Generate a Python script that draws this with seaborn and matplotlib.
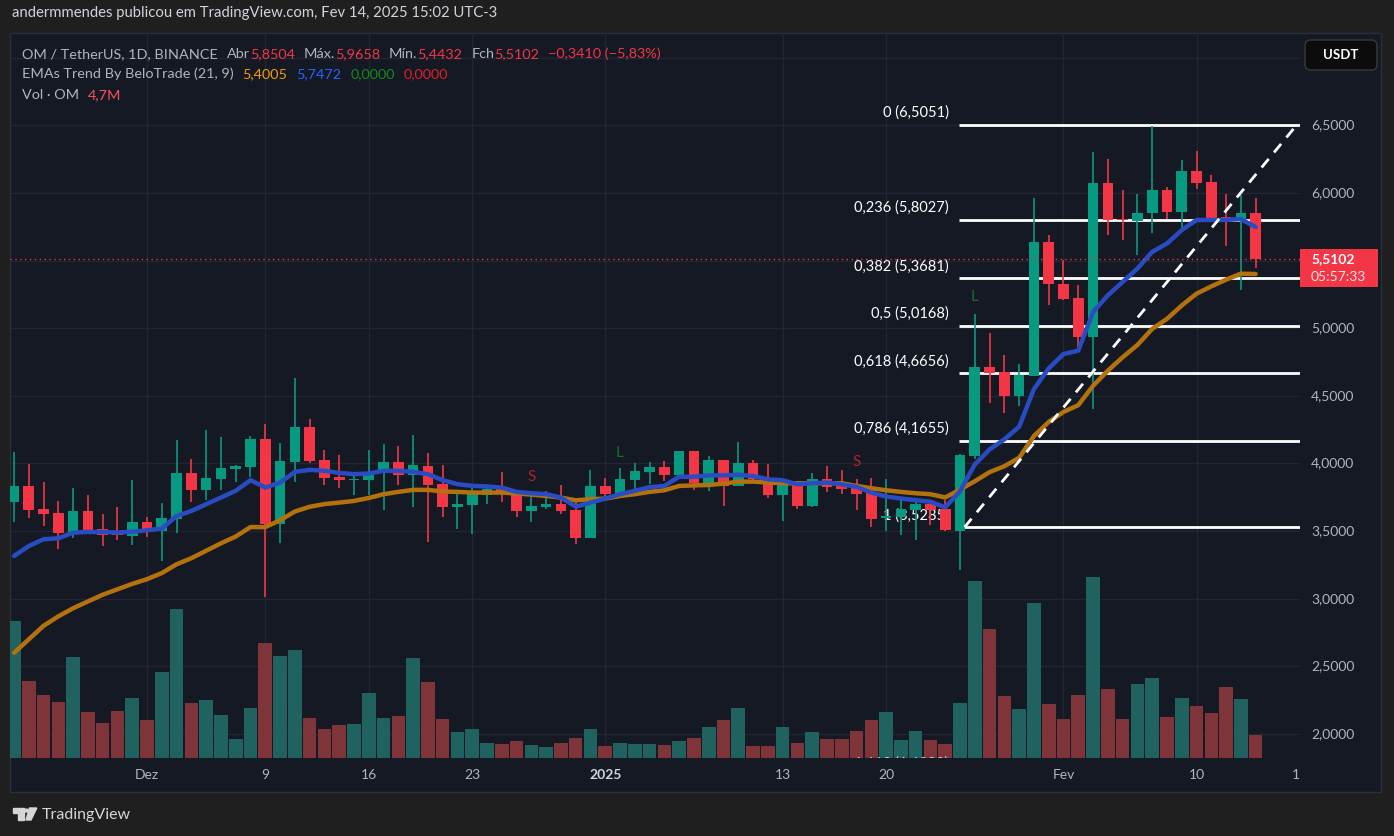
import numpy as np
import pandas as pd
import matplotlib
matplotlib.use("Agg")  # no display in the sandbox
import matplotlib.pyplot as plt
from matplotlib.patches import Rectangle, FancyBboxPatch, Polygon, Circle
import seaborn as sns

W, H = 1394, 836

# daily candles, OM/USDT (Binance)
dates = pd.date_range("2024-11-22", "2025-02-14", freq="D")

opens = [3.716, 3.832, 3.662, 3.632, 3.486, 3.647, 3.514, 3.479, 3.464, 3.565,
         3.501, 3.590, 3.928, 3.805, 3.886, 3.960, 3.975, 4.180, 3.553, 4.010,
         4.269, 4.025, 3.899, 3.879, 3.879, 3.931, 4.010, 3.916, 3.980, 3.847,
         3.679, 3.694, 3.768, 3.810, 3.783, 3.649, 3.679, 3.699, 3.654, 3.449,
         3.832, 3.773, 3.879, 3.937, 3.971, 3.912, 4.095, 3.846, 4.029, 3.834,
         4.000, 3.888, 3.766, 3.839, 3.688, 3.888, 3.834, 3.827, 3.780, 3.595,
         3.607, 3.659, 3.700, 3.663, 3.502, 4.054, 4.713, 4.673, 4.500, 4.649,
         5.639, 5.329, 5.223, 4.938, 6.072, 5.807, 5.792, 5.849, 6.020, 5.859,
         6.161, 6.079, 5.819, 5.800, 5.8504]
highs = [4.084, 3.995, 3.862, 3.721, 3.817, 3.765, 3.625, 3.677, 3.877, 3.602,
         3.706, 4.173, 4.032, 4.247, 4.195, 3.988, 4.205, 4.291, 4.151, 4.632,
         4.328, 4.099, 4.062, 3.928, 4.099, 4.143, 4.128, 4.210, 4.077, 3.988,
         3.805, 3.847, 3.817, 3.936, 3.802, 3.788, 3.795, 3.839, 3.714, 3.951,
         3.891, 3.965, 4.002, 4.012, 4.015, 4.095, 4.095, 4.054, 4.029, 4.156,
         4.029, 3.993, 3.839, 3.839, 3.927, 3.985, 3.949, 3.883, 3.895, 3.883,
         3.744, 3.744, 3.732, 3.732, 4.067, 5.106, 4.965, 4.802, 4.735, 5.960,
         5.688, 5.502, 5.322, 6.302, 6.250, 6.020, 5.990, 6.495, 6.040, 6.243,
         6.309, 6.136, 5.990, 5.983, 5.9658]
lows = [3.568, 3.598, 3.538, 3.368, 3.449, 3.479, 3.390, 3.435, 3.398, 3.457,
        3.279, 3.486, 3.716, 3.731, 3.805, 3.864, 3.901, 3.010, 3.412, 3.864,
        4.002, 3.842, 3.820, 3.768, 3.768, 3.657, 3.844, 3.679, 3.420, 3.605,
        3.516, 3.479, 3.699, 3.716, 3.605, 3.568, 3.664, 3.627, 3.405, 3.449,
        3.758, 3.758, 3.780, 3.846, 3.871, 3.883, 3.805, 3.798, 3.688, 3.834,
        3.859, 3.744, 3.578, 3.663, 3.676, 3.790, 3.773, 3.659, 3.529, 3.498,
        3.468, 3.432, 3.542, 3.498, 3.213, 4.030, 4.446, 4.371, 4.426, 4.649,
        5.173, 5.205, 4.827, 4.401, 5.688, 5.651, 5.540, 5.700, 5.807, 5.738,
        6.030, 5.807, 5.606, 5.280, 5.4432]
closes = [3.832, 3.657, 3.627, 3.486, 3.647, 3.509, 3.472, 3.472, 3.565, 3.501,
          3.595, 3.928, 3.805, 3.891, 3.965, 3.980, 4.180, 3.551, 4.017, 4.269,
          4.017, 3.894, 3.879, 3.886, 3.936, 4.010, 3.916, 3.988, 3.842, 3.679,
          3.699, 3.773, 3.810, 3.778, 3.649, 3.684, 3.699, 3.649, 3.449, 3.832,
          3.773, 3.884, 3.943, 3.971, 3.912, 4.095, 3.859, 4.029, 3.834, 4.000,
          3.883, 3.766, 3.839, 3.688, 3.888, 3.827, 3.810, 3.773, 3.590, 3.610,
          3.663, 3.700, 3.656, 3.510, 4.059, 4.713, 4.668, 4.500, 4.653, 5.639,
          5.329, 5.218, 4.938, 6.072, 5.800, 5.797, 5.854, 6.020, 5.859, 6.161,
          6.072, 5.807, 5.807, 5.8512, 5.5102]
volumes_m = [28.3, 15.9, 13.0, 11.5, 20.8, 9.5, 7.2, 9.7, 12.4, 7.8,
             17.7, 30.8, 11.3, 11.9, 9.0, 3.9, 10.3, 23.7, 21.1, 22.3,
             8.2, 5.9, 6.8, 7.0, 13.4, 8.2, 8.6, 20.6, 15.7, 8.0,
             5.3, 6.1, 3.2, 3.0, 3.5, 2.6, 2.2, 3.2, 4.1, 5.9,
             2.4, 3.2, 2.8, 3.0, 2.6, 3.5, 4.1, 6.4, 7.8, 10.3,
             2.4, 2.4, 6.4, 3.2, 5.3, 3.9, 3.9, 5.5, 7.8, 9.5,
             3.7, 5.5, 3.7, 2.8, 11.3, 36.6, 26.6, 12.8, 10.1, 32.0,
             11.1, 8.0, 13.0, 37.4, 14.2, 8.0, 15.3, 16.5, 8.4, 12.4,
             10.7, 9.3, 14.6, 12.2, 4.7]

# EMA 9 (blue) and EMA 21 (orange) as drawn on the chart
ema_fast = [3.316, 3.39, 3.44, 3.447, 3.489, 3.494, 3.494, 3.489, 3.496, 3.506,
            3.519, 3.612, 3.649, 3.699, 3.748, 3.798, 3.877, 3.822, 3.859, 3.938,
            3.953, 3.946, 3.93, 3.921, 3.926, 3.946, 3.946, 3.938, 3.921, 3.877,
            3.847, 3.835, 3.830, 3.822, 3.79, 3.78, 3.773, 3.748, 3.681, 3.711,
            3.741, 3.773, 3.798, 3.825, 3.834, 3.902, 3.902, 3.912, 3.912, 3.917,
            3.907, 3.883, 3.876, 3.846, 3.854, 3.859, 3.846, 3.827, 3.785, 3.756,
            3.741, 3.729, 3.717, 3.676, 3.795, 3.993, 4.104, 4.178, 4.272, 4.550,
            4.703, 4.809, 4.834, 5.119, 5.243, 5.342, 5.441, 5.564, 5.626, 5.725,
            5.800, 5.800, 5.800, 5.807, 5.7472]
ema_slow = [2.60, 2.70, 2.80, 2.87, 2.93, 2.98, 3.03, 3.07, 3.11, 3.145,
            3.19, 3.255, 3.30, 3.355, 3.41, 3.46, 3.53, 3.53, 3.58, 3.645,
            3.68, 3.70, 3.711, 3.723, 3.745, 3.773, 3.79, 3.805, 3.805, 3.793,
            3.79, 3.785, 3.785, 3.785, 3.778, 3.770, 3.760, 3.748, 3.728, 3.736,
            3.74, 3.760, 3.773, 3.79, 3.802, 3.834, 3.838, 3.841, 3.851, 3.866,
            3.866, 3.859, 3.854, 3.854, 3.854, 3.854, 3.854, 3.834, 3.817, 3.802,
            3.790, 3.780, 3.773, 3.749, 3.807, 3.869, 3.936, 3.980, 4.042, 4.203,
            4.307, 4.381, 4.431, 4.574, 4.686, 4.785, 4.876, 4.995, 5.069, 5.168,
            5.255, 5.309, 5.359, 5.403, 5.4005]

# fibonacci retracement drawing
fib_ratios = ["0", "0,236", "0,382", "0,5", "0,618", "0,786", "1"]
fib_prices = [6.5051, 5.8027, 5.3681, 5.0168, 4.6656, 4.1655, 3.5285]
fib_ext_label = "1,618 (1,6890)"
fib_ext_price = 1.6890
fib_anchor = "2025-01-25"
trend_x = [64.3, 86.8]

# signal markers
sig_dates = ["2024-12-27", "2025-01-02", "2025-01-18", "2025-01-26"]
sig_prices = [3.90, 4.08, 4.01, 5.23]
sig_text = ["S", "L", "S", "L"]

tick_dates = ["2024-12-01", "2024-12-09", "2024-12-16", "2024-12-23", "2025-01-01",
              "2025-01-13", "2025-01-20", "2025-02-01", "2025-02-10", "2025-02-17"]
tick_labels = ["Dez", "9", "16", "23", "2025", "13", "20", "Fev", "10", "17"]
price_grid = [2.0, 2.5, 3.0, 3.5, 4.0, 4.5, 5.0, 5.5, 6.0, 6.5, 7.0]
price_labels = [2.0, 2.5, 3.0, 3.5, 4.0, 4.5, 5.0, 6.0, 6.5]

BG_OUT = "#1f1f1f"
BG_PANE = "#151924"
GRID = "#222632"
TXT = "#b2b5be"
UP = "#089981"
DOWN = "#f23645"
VOL_UP = "#1f625f"
VOL_DOWN = "#7f3439"
BLUE = "#2a4cc2"
ORANGE = "#b4720f"

sns.set_theme(style="dark")
plt.rcParams["font.family"] = ["Lato", "DejaVu Sans"]


def fx(x):
    return x / W


def fy(y):
    return 1 - y / H


def comma(v, nd=4):
    return f"{v:.{nd}f}".replace(".", ",").replace("-", "\u2212")


idx = np.arange(len(dates))
o, h, l, c = map(np.array, (opens, highs, lows, closes))
up = c >= o
candle_col = np.where(up, UP, DOWN)
vol_col = np.where(up, VOL_UP, VOL_DOWN)
tick_pos = [(pd.Timestamp(d) - dates[0]).days for d in tick_dates]
fib_x0 = (pd.Timestamp(fib_anchor) - dates[0]).days - 0.1

fig = plt.figure(figsize=(W / 100, H / 100), dpi=100, facecolor=BG_OUT)
fig.add_artist(Rectangle((fx(10), fy(792)), (1381 - 10) / W, (792 - 33) / H,
                         transform=fig.transFigure, facecolor=BG_PANE,
                         edgecolor="#2b2f3a", lw=1, zorder=-5))

rect = [fx(10), fy(758), (1300 - 10) / W, (758 - 33) / H]
vax = fig.add_axes(rect, zorder=1)
ax = fig.add_axes(rect, sharex=vax, zorder=2)
for a in (ax, vax):
    a.set_facecolor("none")
    for s in a.spines.values():
        s.set_visible(False)

ax.set_xlim(-0.27, 87.0)
ax.set_ylim(1.823, 7.182)

# grid (behind the volume bars)
vax.hlines(price_grid, 0, 1, transform=ax.get_yaxis_transform(), color=GRID, lw=1, zorder=0)
vax.vlines(tick_pos[:-1], 0, 1, transform=vax.get_xaxis_transform(), color=GRID, lw=1, zorder=0)

# volume
vax.bar(idx, volumes_m, width=0.92, color=vol_col, linewidth=0, zorder=1)
vax.set_ylim(0, 150)
vax.tick_params(left=False, labelleft=False, bottom=False, labelbottom=False)

# fib levels and labels
ax.hlines(fib_prices, fib_x0, 87.0, color="white", lw=2, zorder=2)
for r, p in zip(fib_ratios, fib_prices):
    ax.annotate(f"{r} ({comma(p)})", xy=(fib_x0, p), xytext=(-10, 5),
                textcoords="offset pixels", ha="right", va="bottom",
                color="white", fontsize=10.5, zorder=2)
ax.annotate(fib_ext_label, xy=(fib_x0, fib_ext_price), xytext=(-10, 5),
            textcoords="offset pixels", ha="right", va="bottom", color="white",
            alpha=0.75, fontsize=10.5, zorder=2, annotation_clip=False, clip_on=True)

# candles
ax.vlines(idx, l, h, colors=candle_col, lw=1.2, zorder=3)
ax.bar(idx, np.maximum(np.abs(c - o), 0.008), bottom=np.minimum(o, c),
       width=0.72, color=candle_col, linewidth=0, zorder=4)

# EMAs
sns.lineplot(x=idx, y=ema_slow, ax=ax, color=ORANGE, lw=3.2, zorder=5)
sns.lineplot(x=idx, y=ema_fast, ax=ax, color=BLUE, lw=3.2, zorder=5)

# trend line drawing
ax.plot(trend_x, [fib_prices[-1], fib_prices[0]], color="white", lw=2,
        ls=(0, (4, 3)), zorder=6)

# signal letters
for d, p, s in zip(sig_dates, sig_prices, sig_text):
    xi = (pd.Timestamp(d) - dates[0]).days
    ax.text(xi, p, s, color="#b5222e" if s == "S" else "#1c6a24",
            fontsize=11, ha="center", va="center", zorder=6)

# last price line and tag
last = closes[-1]
ax.axhline(last, color=DOWN, lw=1, ls=(0, (1, 2.5)), zorder=6)
yt = ax.get_yaxis_transform()
ax.add_patch(Rectangle((1.0, last - 0.207), (1378 - 1300) / 1290, 0.281,
                       transform=yt, facecolor=DOWN, edgecolor="none",
                       clip_on=False, zorder=7))
ax.text(1.0085, last, comma(last), transform=yt, color="white", fontsize=10,
        fontweight="bold", va="center", ha="left", zorder=8, clip_on=False)
ax.text(1.0085, last - 0.135, "05:57:33", transform=yt, color="#ffe4e6",
        fontsize=10, va="center", ha="left", zorder=8, clip_on=False)

# price scale
for p in price_labels:
    ax.text(1.0085, p, comma(p), transform=yt, color=TXT, fontsize=10,
            va="center", ha="left", clip_on=False)

# time scale
ax.set_xticks(tick_pos)
ax.set_xticklabels(tick_labels)
ax.tick_params(axis="x", length=0, pad=8, colors=TXT, labelsize=10)
ax.tick_params(axis="y", left=False, labelleft=False)
for t in ax.get_xticklabels():
    if t.get_text() == "2025":
        t.set_fontweight("bold")
        t.set_color("#d1d4dc")
ax.set_xlabel("")
ax.set_ylabel("")
# the price scale column covers the right half of the last date label
fig.add_artist(Rectangle((fx(1299.5), fy(791)), (1380 - 1299.5) / W, (791 - 759) / H,
                         transform=fig.transFigure, facecolor=BG_PANE,
                         edgecolor="none", zorder=10))

# legend rows (top-left of the pane)
def text_run(x, y, parts, size=10.4):
    t = fig.text(fx(x), fy(y), parts[0][0], color=parts[0][1], fontsize=size, va="center")
    for s, col, gap in parts[1:]:
        t = ax.annotate(s, xy=(1, 0.5), xycoords=t, xytext=(gap, 0),
                        textcoords="offset pixels", va="center", color=col,
                        fontsize=size)
    return t


chg = closes[-1] - closes[-2]
pct = chg / closes[-2] * 100
text_run(22, 54, [("OM / TetherUS, 1D, BINANCE", TXT, 0),
                  ("Abr", TXT, 9), (comma(opens[-1]), DOWN, 0),
                  ("Máx.", TXT, 9), (comma(highs[-1]), DOWN, 0),
                  ("Mín.", TXT, 9), (comma(lows[-1]), DOWN, 0),
                  ("Fch", TXT, 9), (comma(closes[-1]), DOWN, 0),
                  (f"{comma(chg)} ({comma(pct, 2)}%)", DOWN, 9)])
text_run(22, 74, [("EMAs Trend By BeloTrade (21, 9)", TXT, 0),
                  (comma(ema_slow[-1]), "#f39c12", 9),
                  (comma(ema_fast[-1]), "#2962ff", 9),
                  (comma(0), "#138a1f", 9),
                  (comma(0), "#e0202c", 9)])
text_run(22, 95, [("Vol · OM", TXT, 0),
                  (comma(volumes_m[-1], 1) + "M", "#f7525f", 9)])

fig.text(fx(12), fy(13), "andermmendes publicou em TradingView.com, Fev 14, 2025 15:02 UTC-3",
         color="#d1d4dc", fontsize=10.75, va="center")

# currency button
fig.add_artist(FancyBboxPatch((fx(1305), fy(70)), (1377 - 1305) / W, 30 / H,
                              boxstyle="round,pad=0,rounding_size=0.004",
                              mutation_aspect=W / H, transform=fig.transFigure,
                              facecolor="#0c0c0c", edgecolor="#3a3a3a", lw=1, zorder=10))
fig.text(fx(1341), fy(55), "USDT", color="white", fontsize=9.5, fontweight="bold",
         ha="center", va="center", zorder=11)

# footer logo
logo_col = "#d6d6d6"
fig.add_artist(Polygon([(fx(13), fy(808)), (fx(23.5), fy(808)), (fx(23.5), fy(820)),
                        (fx(18.3), fy(820)), (fx(18.3), fy(813)), (fx(13), fy(813))],
                       closed=True, transform=fig.transFigure, color=logo_col))
fig.add_artist(Circle((fx(26.5), fy(810.6)), 2.4 / W, transform=fig.transFigure, color=logo_col))
fig.add_artist(Polygon([(fx(29.5), fy(808)), (fx(36.8), fy(808)), (fx(31), fy(820)),
                        (fx(26), fy(820))], closed=True, transform=fig.transFigure, color=logo_col))
fig.text(fx(42), fy(815), "TradingView", color=logo_col, fontsize=11.5, va="center")

fig.savefig("out.png", dpi=100, facecolor=BG_OUT)
plt.close(fig)
